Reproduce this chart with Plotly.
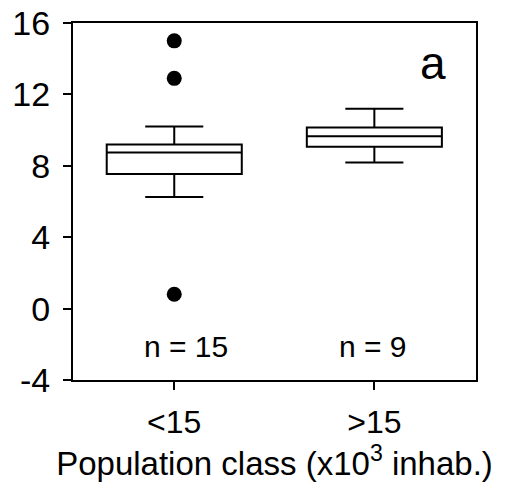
import plotly.graph_objects as go

categories = ["<15", ">15"]
q1 = [7.54, 9.07]
median = [8.75, 9.66]
q3 = [9.2, 10.15]
lower_whisker = [6.25, 8.19]
upper_whisker = [10.2, 11.2]
outlier_cats = ["<15", "<15", "<15"]
outlier_vals = [15.0, 12.9, 0.8]
n_labels = ["n = 15", "n = 9"]
n_label_x = [0.058, 0.994]
y_ticks = [-4, 0, 4, 8, 12, 16]
y_tick_text = ["-4", "0", "4", "8", "12", "16"]

FONT = "Liberation Sans, Arial, sans-serif"

fig = go.Figure()
fig.add_trace(go.Box(
    x=categories, q1=q1, median=median, q3=q3,
    lowerfence=lower_whisker, upperfence=upper_whisker,
    width=0.675, whiskerwidth=0.43,
    fillcolor="white", line=dict(color="black", width=2),
    boxpoints=False, showlegend=False, hoverinfo="skip",
))
fig.add_trace(go.Scatter(
    x=outlier_cats, y=outlier_vals, mode="markers",
    marker=dict(color="black", size=15, line=dict(width=0)),
    showlegend=False, hoverinfo="skip",
))

for lbl, xv in zip(n_labels, n_label_x):
    fig.add_annotation(x=xv, y=-2.13, xref="x", yref="y", text=lbl,
                       xanchor="center", yanchor="middle",
                       showarrow=False, font=dict(family=FONT, size=30, color="black"))

fig.add_annotation(x=0.893, y=0.887, xref="paper", yref="paper", text="a",
                   xanchor="center", yanchor="middle",
                   showarrow=False, font=dict(family=FONT, size=46, color="black"))

fig.update_layout(
    width=508, height=492,
    margin=dict(l=73, r=32, t=23, b=112),
    plot_bgcolor="white", paper_bgcolor="white",
    font=dict(family=FONT, color="black"),
    xaxis=dict(
        type="category", range=[-0.506, 1.508], automargin=False,
        showline=True, linecolor="black", linewidth=2, mirror=True,
        ticks="outside", ticklen=8, tickwidth=2, tickcolor="black",
        tickfont=dict(size=32, family=FONT), showgrid=False, zeroline=False,
        ticklabelstandoff=5,
        title=dict(text="Population class (x10<sup>3</sup> inhab.)",
                   font=dict(size=33, family=FONT), standoff=11),
    ),
    yaxis=dict(
        range=[-4, 16], tickvals=y_ticks, ticktext=y_tick_text, automargin=False,
        showline=True, linecolor="black", linewidth=2, mirror=True,
        ticks="outside", ticklen=8, tickwidth=2, tickcolor="black",
        tickfont=dict(size=34, family=FONT), showgrid=False, zeroline=False,
        ticklabelstandoff=6,
    ),
)

fig.write_html("out.html")
